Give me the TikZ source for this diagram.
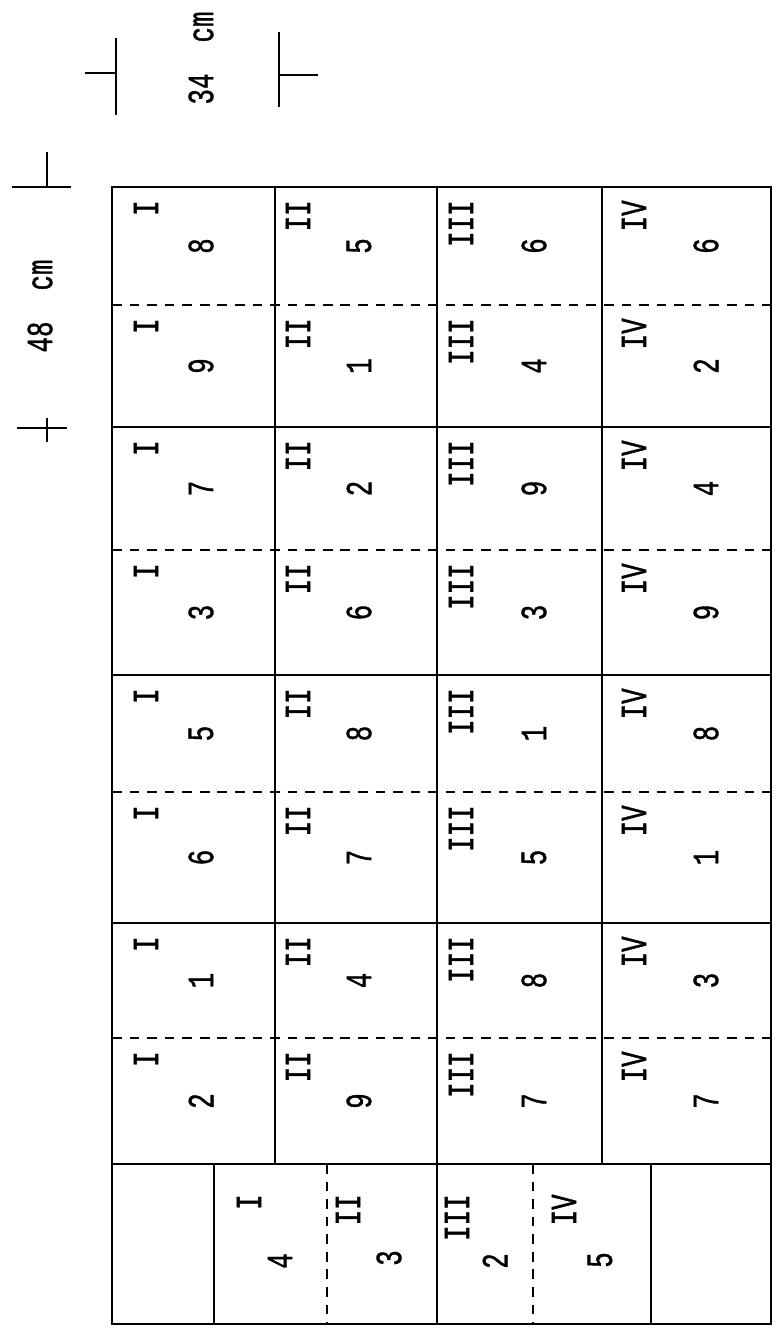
\documentclass[tikz,border=0pt]{standalone}
\usepackage{fontspec}
\newfontfamily\typefont[FakeStretch=0.7, FakeBold=1]{Liberation Mono}

\begin{document}
\begin{tikzpicture}[
  x=0.02cm, y=-0.02cm,
  font=\typefont\fontsize{21}{21}\selectfont,
  wall/.style={line width=1.5pt},
  split/.style={line width=1.3pt, dash pattern=on 5.5pt off 4.5pt},
  tick/.style={line width=1.3pt},
  num/.style={rotate=90, anchor=east, inner sep=0pt},
  val/.style={rotate=90, inner sep=0pt},
]
\useasboundingbox (0,0) rectangle (783,1336);

% field outline, blocks and plots
\draw[wall] (112,187) rectangle (771,1324);
\foreach \y in {427,675,923,1164} \draw[wall] (112,\y) -- (771,\y);
\foreach \y in {305,550,792,1038} \draw[split] (112,\y) -- (771,\y);
\foreach \x in {275,602} \draw[wall] (\x,187) -- (\x,1164);
\draw[wall] (437,187) -- (437,1324);
\draw[wall] (214,1164) -- (214,1324);
\draw[wall] (651,1164) -- (651,1324);
\draw[split] (327,1164) -- (327,1324);
\draw[split] (533,1164) -- (533,1324);

% treatment labels
\foreach \top/\bot/\a/\b/\c/\d [count=\r] in {187/305/8/5/6/6, 305/427/9/1/4/2,
    427/550/7/2/9/4, 550/675/3/6/3/9, 675/792/5/8/1/8, 792/923/6/7/5/1,
    923/1038/1/4/8/3, 1038/1164/2/9/7/7} {
  \node[num] (rep\r-1) at (146,\top+13) {I};
  \node[val] (trt\r-1) at (201,{(\top+\bot)/2}) {\a};
  \node[num] (rep\r-2) at (298,\top+13) {II};
  \node[val] (trt\r-2) at (359,{(\top+\bot)/2}) {\b};
  \node[num] (rep\r-3) at (461,\top+13) {III};
  \node[val] (trt\r-3) at (534,{(\top+\bot)/2}) {\c};
  \node[num] (rep\r-4) at (634,\top+13) {IV};
  \node[val] (trt\r-4) at (706,{(\top+\bot)/2}) {\d};
}
\node[num] (repB-1) at (249,1194) {I};   \node[val] (trtB-1) at (280,1261) {4};
\node[num] (repB-2) at (348,1194) {II};  \node[val] (trtB-2) at (389,1258) {3};
\node[num] (repB-3) at (457,1194) {III}; \node[val] (trtB-3) at (495,1261) {2};
\node[num] (repB-4) at (564,1194) {IV};  \node[val] (trtB-4) at (600,1260) {5};

% plot size
\draw[tick] (47,152) -- (47,187) (12,187) -- (71,187);
\draw[tick] (47,418) -- (47,442) (17,428) -- (67,428);
\node[val] (len) at (40,306) {48~~cm};
\draw[tick] (116,38) -- (116,115) (85,73) -- (116,73);
\draw[tick] (279,32) -- (279,107) (279,75) -- (318,75);
\node[val] (wid) at (201,58) {34~~cm};
\end{tikzpicture}
\end{document}
